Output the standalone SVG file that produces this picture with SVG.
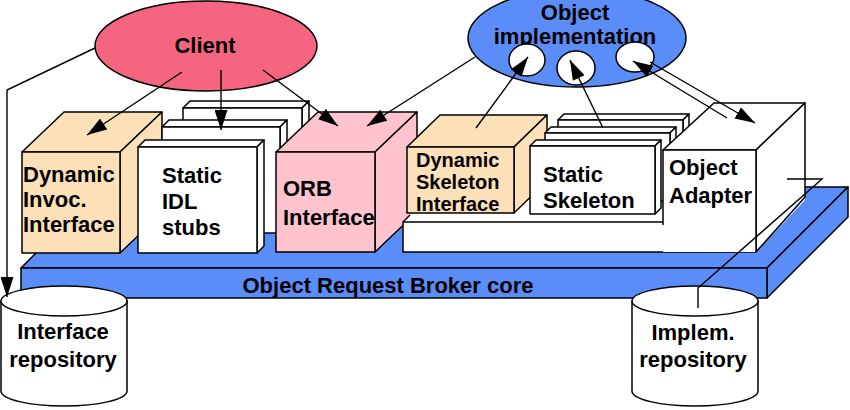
<svg xmlns="http://www.w3.org/2000/svg" width="850" height="410" viewBox="0 0 850 410">
<defs>
<style>
.s{stroke:#000;stroke-width:1.5;stroke-linejoin:round}
.w{fill:#fff}
.be{fill:#FCE1B8}
.pk{fill:#FFC3CE}
.bl{fill:#5B8DF8}
.c{stroke:#000;stroke-width:1.4;fill:none}
.t{font-family:"Liberation Sans",Arial,Helvetica,sans-serif;font-weight:bold;font-size:22px;fill:#000}
.sm{font-size:20px}
.m{text-anchor:middle}
</style>
<marker id="ah" markerWidth="20" markerHeight="13" refX="20" refY="6.5" orient="auto" markerUnits="userSpaceOnUse"><path d="M0,0 L20,6.5 L0,13 z" fill="#000"/></marker>
</defs>
<rect width="850" height="410" fill="#fff"/>

<g id="orb-core">
<polygon class="s bl" points="21,268 102,187 848,187 767,268"/>
<polygon class="s bl" points="767,268 848,187 848,217 767,298"/>
<rect class="s bl" x="21" y="268" width="746" height="30"/>
<text class="t m" x="388" y="293">Object Request Broker core</text>
</g>

<g id="dii">
<polygon class="s be" points="22,152 64,112 162,112 120,152"/>
<polygon class="s be" points="120,152 162,112 162,213 120,253"/>
<rect class="s be" x="22" y="152" width="98" height="101"/>
<text class="t" x="23" y="182">Dynamic</text>
<text class="t" x="23" y="207">Invoc.</text>
<text class="t" x="23" y="232">Interface</text>
</g>

<g id="idl-stubs">
<polygon class="s w" points="183,108 190,101 309,101 302,108"/>
<polygon class="s w" points="302,108 309,101 309,207 302,214"/>
<rect class="s w" x="183" y="108" width="119" height="106"/>
<polygon class="s w" points="162,127 169,120 287,120 280,127"/>
<polygon class="s w" points="280,127 287,120 287,226 280,233"/>
<rect class="s w" x="162" y="127" width="118" height="106"/>
<polygon class="s w" points="138,147 145,140 264,140 257,147"/>
<polygon class="s w" points="257,147 264,140 264,246 257,253"/>
<rect class="s w" x="138" y="147" width="119" height="106"/>
<text class="t" x="162" y="183">Static</text>
<text class="t" x="162" y="209">IDL</text>
<text class="t" x="162" y="235">stubs</text>
</g>

<g id="orb-interface">
<polygon class="s pk" points="276,152 318,112 417,112 375,152"/>
<polygon class="s pk" points="375,152 417,112 417,212 375,252"/>
<rect class="s pk" x="276" y="152" width="99" height="100"/>
<text class="t" x="283" y="196">ORB</text>
<text class="t" x="283" y="225">Interface</text>
</g>

<g id="skeleton-base">
<polygon class="w" points="403,222 438,187 805,187 805,200 756,252 403,252"/>
<path class="c" d="M403,222 L410,215"/>
<path class="s" fill="none" d="M663,222 H403 V252 H756"/>
</g>

<g id="dsi">
<polygon class="s be" points="407,147 440,115 547,115 514,147"/>
<polygon class="s be" points="514,147 547,115 547,181 514,213"/>
<rect class="s be" x="407" y="147" width="107" height="66"/>
<text class="t sm" x="416" y="167">Dynamic</text>
<text class="t sm" x="416" y="189">Skeleton</text>
<text class="t sm" x="416" y="211">Interface</text>
</g>

<g id="static-skeleton">
<polygon class="s w" points="558,120 564,114 689,114 683,120"/>
<polygon class="s w" points="683,120 689,114 689,182 683,188"/>
<rect class="s w" x="558" y="120" width="125" height="68"/>
<polygon class="s w" points="545,133 551,127 676,127 670,133"/>
<polygon class="s w" points="670,133 676,127 676,195 670,201"/>
<rect class="s w" x="545" y="133" width="125" height="68"/>
<polygon class="s w" points="530,146 536,140 661,140 655,146"/>
<polygon class="s w" points="655,146 661,140 661,208 655,214"/>
<rect class="s w" x="530" y="146" width="125" height="68"/>
<text class="t" x="543" y="182">Static</text>
<text class="t" x="543" y="208">Skeleton</text>
</g>

<g id="object-adapter">
<polygon class="s w" points="663,150 714,103 805,103 756,150"/>
<polygon class="s w" points="756,150 805,103 805,197 756,252"/>
<rect class="w" x="663" y="150" width="93" height="102"/>
<path class="s" fill="none" d="M663,225 V150 H756 V252"/>
<text class="t" x="669" y="175">Object</text>
<text class="t" x="669" y="203">Adapter</text>
</g>

<g id="client">
<ellipse class="s" fill="#F5657F" cx="206" cy="46" rx="111" ry="45"/>
<text class="t m" x="205" y="53">Client</text>
</g>

<g id="object-implementation">
<ellipse class="s bl" cx="577" cy="38" rx="109" ry="49"/>
<text class="t m" x="575" y="20">Object</text>
<text class="t m" x="575" y="44">implementation</text>
<ellipse class="s w" cx="527" cy="60" rx="18" ry="16"/>
<ellipse class="s w" cx="576" cy="68" rx="19" ry="17"/>
<ellipse class="s w" cx="635" cy="57" rx="19" ry="15"/>
</g>

<g id="interface-repository">
<path class="s w" d="M1,301 V391 A63,15 0 0,0 127,391 V301 Z"/>
<ellipse class="s w" cx="64" cy="301" rx="63" ry="15"/>
<text class="t m" x="63" y="339">Interface</text>
<text class="t m" x="63" y="367">repository</text>
</g>

<g id="implem-repository">
<path class="s w" d="M632,301 V391 A63,15 0 0,0 758,391 V301 Z"/>
<ellipse class="s w" cx="695" cy="301" rx="63" ry="15"/>
<text class="t m" x="693" y="340">Implem.</text>
<text class="t m" x="693" y="367">repository</text>
</g>

<g id="connectors">
<path class="c" d="M95,48 L7,90 V297" marker-end="url(#ah)"/>
<path class="c" d="M182,72 L87,135" marker-end="url(#ah)"/>
<path class="c" d="M221,70 V130" marker-end="url(#ah)"/>
<path class="c" d="M263,70 L338,126" marker-end="url(#ah)"/>
<path class="c" d="M475,57 L367,126" marker-end="url(#ah)"/>
<path class="c" d="M476,128 L528,57" marker-end="url(#ah)"/>
<path class="c" d="M603,128 L570,60" marker-end="url(#ah)"/>
<path class="c" d="M727,118 L633,61" marker-end="url(#ah)"/>
<path class="c" d="M650,62 L755,123" marker-end="url(#ah)"/>
<path class="c" d="M698,308 V288 L822,179 H787"/>
</g>
</svg>
